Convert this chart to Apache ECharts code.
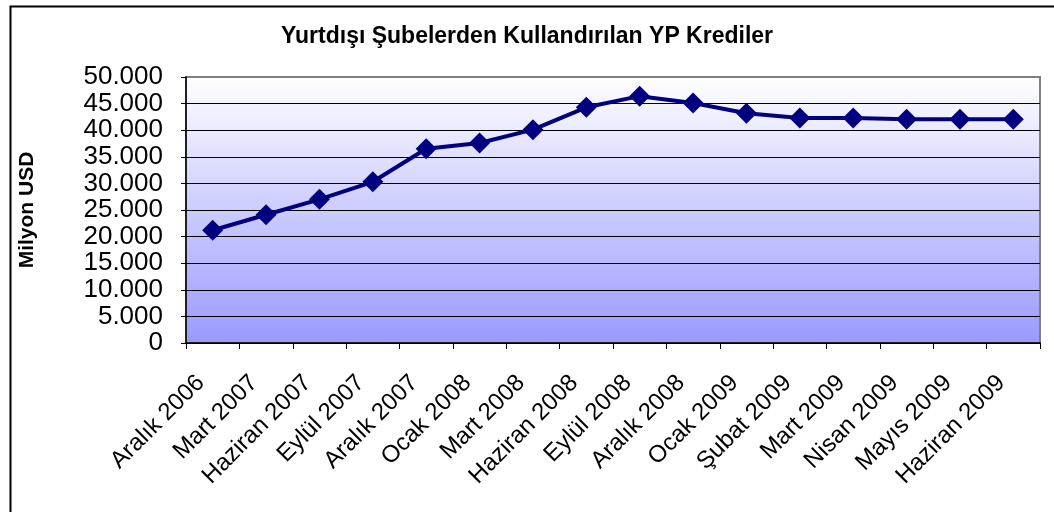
<!DOCTYPE html>
<html>
<head>
<meta charset="utf-8">
<script src="https://cdn.jsdelivr.net/npm/echarts@6/dist/echarts.min.js"></script>
<style>
html,body{margin:0;padding:0;background:#fff;}
#c{width:1054px;height:512px;}
</style>
</head>
<body>
<div id="c"></div>
<script>
const titleText = "Yurtdışı Şubelerden Kullandırılan YP Krediler";
const yAxisName = "Milyon USD";
const categories = ["Aralık 2006","Mart 2007","Haziran 2007","Eylül 2007","Aralık 2007","Ocak 2008","Mart 2008","Haziran 2008","Eylül 2008","Aralık 2008","Ocak 2009","Şubat 2009","Mart 2009","Nisan 2009","Mayıs 2009","Haziran 2009"];
const values = [21200, 24100, 27000, 30300, 36500, 37600, 40100, 44300, 46400, 45100, 43200, 42300, 42300, 42050, 42050, 42050];

const chart = echarts.init(document.getElementById('c'), null, {renderer:'canvas'});
const fmt = v => String(v).replace(/\B(?=(\d{3})+(?!\d))/g, '.');
const splitColors = ['#000','#000','#000','#000','#000','#000','#000','#000','#000','#000','#808080'];
const FONT = 'Liberation Sans, Arial, sans-serif';
chart.setOption({
  animation:false,
  backgroundColor:'#fff',
  title:{
    text:titleText, left:'center', top:20,
    textStyle:{fontFamily:FONT, fontWeight:'bold', fontSize:23, color:'#000'}
  },
  graphic:[{
    type:'rect', left:8, top:4, shape:{width:1200, height:700},
    style:{fill:'none', stroke:'#000', lineWidth:2}, silent:true, z:-1
  }],
  grid:{
    left:186, right:14, top:77, bottom:169, show:true,
    backgroundColor:new echarts.graphic.LinearGradient(0,0,0,1,[{offset:0,color:'#ffffff'},{offset:1,color:'#9999ff'}]),
    borderColor:'#808080', borderWidth:2
  },
  xAxis:{
    type:'category', data:categories, boundaryGap:true,
    axisLine:{lineStyle:{color:'#000', width:1.5}},
    axisTick:{show:true, alignWithLabel:false, length:6, lineStyle:{color:'#000'}},
    axisLabel:{rotate:45, interval:0, margin:24, padding:[0,17,0,0], fontFamily:FONT, fontSize:24, color:'#000'}
  },
  yAxis:{
    type:'value', min:0, max:50000, interval:5000,
    name:yAxisName, nameLocation:'middle', nameGap:148, nameRotate:90,
    nameTextStyle:{fontFamily:FONT, fontWeight:'bold', fontSize:21, color:'#000'},
    axisLine:{show:true, lineStyle:{color:'#000', width:1.5}},
    axisTick:{show:true, length:5, lineStyle:{color:'#000'}},
    axisLabel:{margin:23, fontFamily:FONT, fontSize:26, color:'#000', formatter:fmt},
    splitLine:{show:true, lineStyle:{color:splitColors, width:1}}
  },
  series:[{
    type:'line', data:values,
    lineStyle:{color:'#000080', width:4},
    itemStyle:{color:'#000080'},
    symbol:'diamond', symbolSize:21, showSymbol:true
  }]
});
</script>
</body>
</html>
